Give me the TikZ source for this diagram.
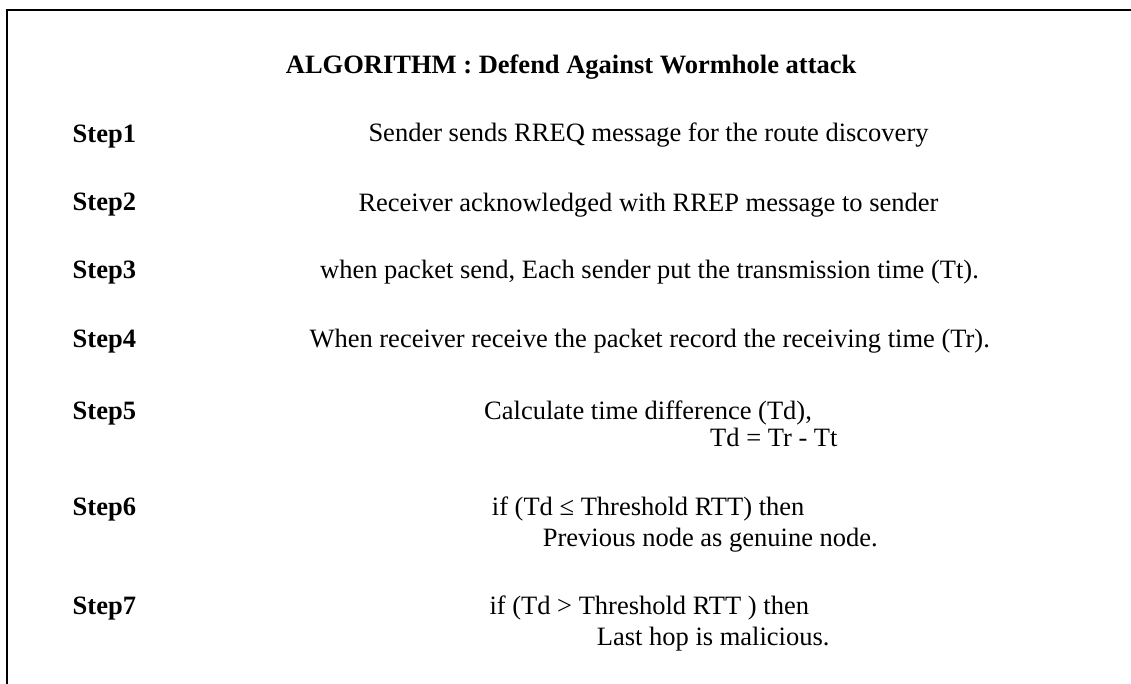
\documentclass[tikz,border=0pt]{standalone}
\usepackage{fontspec}
\setmainfont{Liberation Serif}
\tikzset{
  txt/.style={anchor=base west, inner sep=0pt, font=\fontsize{26.5}{30}\selectfont},
  steplbl/.style={txt, font=\fontsize{26.5}{30}\selectfont\bfseries},
  frameline/.style={line width=2pt, black}
}
\begin{document}
\begin{tikzpicture}[x=1pt,y=-1pt]
\useasboundingbox (0,0) rectangle (1131,684);
\draw[frameline] (7,684) -- (7,10) -- (1131,10);
\node[steplbl] (title) at (285.7,73.3) {ALGORITHM : Defend Against Wormhole attack};
\node[steplbl] (s1) at (72.5,142.5) {Step1};
\node[steplbl] (s2) at (72.5,211) {Step2};
\node[steplbl] (s3) at (72.5,279) {Step3};
\node[steplbl] (s4) at (72.5,347) {Step4};
\node[steplbl] (s5) at (72.5,419) {Step5};
\node[steplbl] (s6) at (72.5,515) {Step6};
\node[steplbl] (s7) at (72.5,614.5) {Step7};
\node[txt] (t1) at (368.3,142) {Sender sends RREQ message for the route discovery};
\node[txt] (t2) at (358.3,211.5) {Receiver acknowledged with RREP message to sender};
\node[txt] (t3) at (320,278.5) {when packet send, Each sender put the transmission time (Tt).};
\node[txt] (t4) at (309.3,347) {When receiver receive the packet record the receiving time (Tr).};
\node[txt] (t5a) at (484,419.3) {Calculate time difference (Td),};
\node[txt] (t5b) at (710,446.7) {Td = Tr - Tt};
\node[txt] (t6a) at (491.7,515) {if (Td ≤ Threshold RTT) then};
\node[txt] (t6b) at (542.7,546) {Previous node as genuine node.};
\node[txt] (t7a) at (489.3,614.5) {if (Td > Threshold RTT ) then};
\node[txt] (t7b) at (596.7,645) {Last hop is malicious.};
\end{tikzpicture}
\end{document}
